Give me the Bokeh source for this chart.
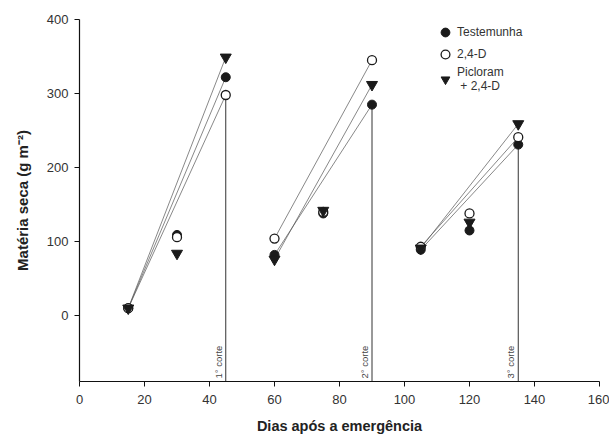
from bokeh.plotting import figure
from bokeh.models import Range1d, Legend, LegendItem, FixedTicker, Label
from bokeh.embed import file_html
from bokeh.resources import INLINE

# Data
dias = [15, 30, 45, 60, 75, 90, 105, 120, 135]
testemunha = [10, 109, 322, 82, 138, 285, 89, 115, 231]
d24 = [10, 106, 298, 104, 140, 345, 93, 138, 241]
picloram = [10, 84, 349, 76, 142, 312, 91, 126, 259]

# Regrowth periods (start, end of fitted segment)
periodos = [(15, 45), (60, 90), (105, 135)]
cortes = [45, 90, 135]
corte_labels = ["1° corte", "2° corte", "3° corte"]

x_ticks = [0, 20, 40, 60, 80, 100, 120, 140, 160]
y_ticks = [0, 100, 200, 300, 400]

FONT = "Liberation Sans"

p = figure(width=609, height=438, output_backend="svg", toolbar_location=None,
           x_range=Range1d(0, 160), y_range=Range1d(-89, 400),
           min_border_left=79, min_border_right=10, min_border_top=19, min_border_bottom=57)
p.outline_line_color = None
p.xgrid.visible = False
p.ygrid.visible = False

for ax in (p.xaxis, p.yaxis):
    ax.axis_line_color = "#111111"
    ax.axis_line_width = 1.2
    ax.major_tick_line_color = "#111111"
    ax.major_tick_out = 5
    ax.major_tick_in = 0
    ax.minor_tick_line_color = None
    ax.major_label_text_font = FONT
    ax.major_label_text_font_size = "13px"
    ax.major_label_text_color = "#333333"
    ax.axis_label_text_font = FONT
    ax.axis_label_text_font_style = "bold"
    ax.axis_label_text_font_size = "14.5px"
    ax.axis_label_text_color = "#222222"

p.xaxis.ticker = FixedTicker(ticks=x_ticks)
p.yaxis.ticker = FixedTicker(ticks=y_ticks)
p.xaxis.axis_label = "Dias após a emergência"
p.yaxis.axis_label = "Matéria seca (g m⁻²)"
p.yaxis.axis_label_text_font_size = "15px"
p.xaxis.major_label_standoff = 8
p.yaxis.major_label_standoff = 6
p.xaxis.axis_label_standoff = 11
p.yaxis.axis_label_standoff = 13

# vertical cut lines
for c in cortes:
    i = dias.index(c)
    top = min(testemunha[i], d24[i], picloram[i])
    p.segment(x0=[c], y0=[-89], x1=[c], y1=[top], line_color="#333333", line_width=1)

# fitted regrowth lines
for s, e in periodos:
    i0, i1 = dias.index(s), dias.index(e)
    for ser in (testemunha, d24, picloram):
        p.line([s, e], [ser[i0], ser[i1]], line_color="#555555", line_width=0.7)

r1 = p.scatter(dias, testemunha, marker="circle", size=9, fill_color="#1a1a1a", line_color="#1a1a1a")
r2 = p.scatter(dias, d24, marker="circle", size=9, fill_color="white", line_color="#1a1a1a", line_width=1.3)
r3 = p.scatter(dias, picloram, marker="inverted_triangle", size=11, fill_color="#1a1a1a", line_color="#1a1a1a")

# corte labels
for c, lab in zip(cortes, corte_labels):
    p.add_layout(Label(x=c, y=-89, text=lab, angle=1.5708, x_offset=-2, y_offset=3,
                       text_font=FONT, text_font_size="9.5px", text_color="#444444",
                       text_baseline="bottom", text_align="left"))

legend = Legend(items=[LegendItem(label="Testemunha", renderers=[r1]),
                       LegendItem(label="2,4-D", renderers=[r2]),
                       LegendItem(label="Picloram\n + 2,4-D", renderers=[r3])],
                location=(355, 288), background_fill_alpha=0, border_line_color=None,
                label_text_font=FONT, label_text_font_size="12px", label_text_color="#333333",
                glyph_width=22, glyph_height=22, spacing=-4, padding=2, label_standoff=1)
p.add_layout(legend, "center")

open("out.html", "w").write(file_html(p, INLINE))
